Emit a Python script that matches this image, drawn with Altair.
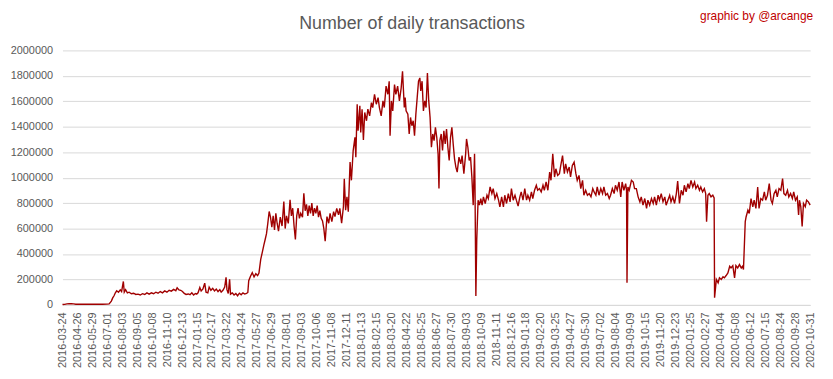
import altair as alt
import pandas as pd

# observation number (position along the category axis) and daily transaction counts
day = [0, 5, 10, 15, 20, 25, 30, 40, 50, 60, 70, 80, 90, 100, 105, 110, 113, 116, 119, 122, 126, 130, 133, 137, 139, 142, 146, 150, 155, 160, 165, 170, 175, 180, 185, 190, 195, 200, 205, 210, 215, 220, 225, 230, 235, 240, 245, 250, 255, 258, 262, 266, 270, 274, 278,
       283, 287, 291, 295, 299, 302, 305, 309, 312, 316, 320, 323, 327, 330, 334, 338, 342, 346, 350, 354, 357, 361, 365, 368, 370, 373, 376, 378, 382, 386, 390, 394, 398, 402, 406, 410, 414, 417, 419, 423, 427, 431, 435, 439, 442, 446, 450, 453, 456, 459, 462, 465,
       468, 471, 474, 477, 480, 483, 486, 490, 494, 498, 501, 504, 508, 512, 515, 518, 521, 524, 527, 530, 533, 536, 540, 543, 546, 549, 552, 555, 558, 561, 564, 567, 570, 573, 576, 579, 582, 585, 588, 591,
       595, 599, 602, 606, 610, 613, 617, 621, 624, 628, 632, 634, 637, 640, 643, 647, 650, 654, 658, 660, 663, 665, 669, 671, 674, 677, 680, 684, 687, 691, 695, 698, 702, 706, 710, 713, 717, 721, 724, 728, 732, 735, 737, 740, 743, 747, 750, 754, 758, 762, 765, 769, 771, 773, 777, 780, 783, 786, 789, 792, 795, 798, 801, 804, 806, 809, 812, 815, 818, 821, 824, 827, 830, 833, 836, 839, 842, 845, 847, 849, 852, 855, 858, 861, 864, 867, 870,
       873, 876, 879, 882, 885, 888, 892, 896, 899, 903, 907, 909, 912, 915, 918, 921, 924, 927, 928, 930, 932, 935, 938, 941, 944, 947, 951, 955, 958, 962, 966, 969, 973, 977, 981, 984, 988, 992, 995, 999, 1003, 1007, 1010, 1014, 1018, 1021, 1025, 1029, 1032, 1036, 1040, 1044, 1047, 1051, 1055, 1058, 1062, 1066, 1069, 1073, 1077, 1081, 1084, 1088, 1092, 1096, 1099, 1103, 1107, 1110, 1114, 1118, 1121, 1125, 1129, 1132, 1136, 1140, 1143, 1147, 1151, 1155, 1158, 1162, 1166, 1170, 1173, 1177, 1181, 1185,
       1189, 1193, 1196, 1200, 1203, 1207, 1211, 1215, 1218, 1222, 1226, 1230, 1233, 1237, 1241, 1244, 1248, 1252, 1256, 1259, 1263, 1267, 1269, 1270, 1272, 1275, 1280, 1284, 1287, 1291, 1295, 1299, 1302, 1306, 1310, 1314, 1317, 1321, 1325, 1329, 1332, 1336, 1340, 1343, 1347, 1351, 1355, 1358, 1362, 1366, 1369, 1373, 1377, 1381, 1384, 1388, 1392, 1396, 1399, 1403, 1407, 1410, 1414, 1418, 1422, 1425, 1429, 1433, 1436, 1440, 1444, 1447, 1449, 1452, 1455, 1459, 1463, 1466, 1467,
       1471, 1475, 1478, 1482, 1486, 1489, 1493, 1497, 1501, 1504, 1508, 1512, 1515, 1519, 1523, 1527, 1530, 1532, 1536, 1538, 1542, 1545, 1549, 1553, 1556, 1560, 1564, 1567, 1571, 1575, 1579, 1582, 1586, 1590, 1594, 1597, 1601, 1605, 1608, 1612, 1616, 1620, 1623, 1627, 1631, 1634, 1638, 1642, 1645, 1649, 1653, 1656, 1658, 1661, 1664, 1667, 1671, 1674, 1678, 1682]

tx = [3000, 4000, 8000, 9000, 10000, 8000, 5000, 5000, 5000, 5000, 5000, 5000, 5000, 6000, 8000, 30000, 55000, 72000, 95000, 111000, 100000, 118000, 105000, 184000, 100000, 120000, 95000, 100000, 88000, 92000, 82000, 85000, 78000, 88000, 82000, 95000, 85000, 95000, 88000, 100000, 92000, 105000, 95000, 110000, 100000, 115000, 108000, 122000, 112000, 135000, 118000, 115000, 105000, 90000, 82000,
      86000, 80000, 95000, 78000, 90000, 85000, 95000, 137000, 110000, 125000, 171000, 100000, 95000, 140000, 115000, 130000, 110000, 125000, 105000, 120000, 100000, 115000, 140000, 216000, 120000, 90000, 202000, 85000, 95000, 78000, 90000, 72000, 92000, 80000, 95000, 85000, 90000, 98000, 190000, 225000, 254000, 220000, 245000, 230000, 250000, 358000, 420000, 470000, 514000, 560000, 643000, 734000,
      690000, 610000, 700000, 590000, 720000, 640000, 580000, 690000, 620000, 812000, 600000, 700000, 640000, 825000, 700000, 760000, 620000, 514000, 700000, 760000, 680000, 720000, 690000, 877000, 740000, 790000, 700000, 780000, 720000, 800000, 700000, 760000, 720000, 780000, 690000, 740000, 680000, 660000, 600000, 500000,
      694000, 642000, 720000, 655000, 733000, 694000, 758000, 707000, 758000, 642000, 771000, 992000, 745000, 849000, 733000, 1122000, 979000, 1213000, 1317000, 1161000, 1577000, 1369000, 1564000, 1356000, 1538000, 1296000, 1512000, 1447000, 1538000, 1486000, 1590000, 1551000, 1655000, 1577000, 1629000, 1551000, 1486000, 1603000, 1551000, 1719000, 1655000, 1758000, 1330000, 1603000, 1525000, 1732000, 1655000, 1719000, 1603000, 1706000, 1836000, 1551000, 1629000, 1525000, 1499000, 1343000, 1473000, 1408000, 1447000, 1330000, 1499000, 1629000, 1758000, 1784000, 1681000, 1758000, 1525000, 1603000, 1551000, 1823000, 1603000, 1473000, 1239000, 1343000, 1291000, 1395000, 1317000, 1187000, 914000, 1291000, 1343000, 1213000, 1369000, 1265000, 1382000, 1239000, 1135000,
      1317000, 1395000, 1265000, 1148000, 1083000, 1044000, 1161000, 1109000, 1174000, 1031000, 1187000, 1304000, 1239000, 1135000, 1161000, 1005000, 784000, 1187000, 950000, 70000, 512000, 823000, 784000, 836000, 784000, 849000, 797000, 862000, 836000, 927000, 875000, 914000, 836000, 875000, 823000, 771000, 849000, 771000, 862000, 797000, 875000, 810000, 914000, 823000, 862000, 823000, 777000, 849000, 888000, 823000, 914000, 823000, 862000, 823000, 888000, 836000, 901000, 940000, 901000, 914000, 888000, 940000, 901000, 966000, 901000, 1044000, 979000, 1187000, 1005000, 1070000, 1018000, 1031000, 1096000, 1174000, 1031000, 1109000, 1044000, 1083000, 1005000, 1096000, 1122000, 1031000, 979000, 1018000, 914000, 979000, 862000, 901000, 862000, 875000,
      849000, 914000, 888000, 862000, 927000, 862000, 914000, 875000, 927000, 862000, 875000, 836000, 862000, 914000, 875000, 940000, 901000, 966000, 849000, 966000, 901000, 953000, 900000, 174000, 927000, 901000, 979000, 966000, 914000, 914000, 849000, 810000, 849000, 784000, 836000, 758000, 823000, 784000, 836000, 797000, 849000, 784000, 862000, 823000, 875000, 810000, 849000, 784000, 823000, 862000, 810000, 849000, 797000, 875000, 974000, 797000, 901000, 862000, 940000, 888000, 953000, 914000, 979000, 927000, 966000, 914000, 940000, 901000, 927000, 888000, 914000, 875000, 654000, 862000, 875000, 849000, 862000, 840000, 57000,
      200000, 174000, 213000, 200000, 221000, 213000, 231000, 252000, 304000, 291000, 309000, 213000, 309000, 291000, 317000, 291000, 304000, 278000, 654000, 693000, 745000, 719000, 836000, 771000, 823000, 758000, 927000, 758000, 836000, 823000, 888000, 823000, 862000, 953000, 823000, 797000, 875000, 901000, 849000, 914000, 901000, 992000, 875000, 862000, 901000, 849000, 875000, 836000, 888000, 823000, 849000, 706000, 823000, 771000, 616000, 797000, 771000, 823000, 810000, 784000]

tick_labels = ["2016-03-24", "2016-04-26", "2016-05-29", "2016-07-01", "2016-08-03", "2016-09-05", "2016-10-08", "2016-11-10", "2016-12-13",
               "2017-01-15", "2017-02-17", "2017-03-22", "2017-04-24", "2017-05-27", "2017-06-29", "2017-08-01", "2017-09-03", "2017-10-06",
               "2017-11-08", "2017-12-11", "2018-01-13", "2018-02-15", "2018-03-20", "2018-04-22", "2018-05-25", "2018-06-27", "2018-07-30",
               "2018-09-03", "2018-10-09", "2018-11-11", "2018-12-16", "2019-01-18", "2019-02-20", "2019-03-25", "2019-04-27", "2019-05-30",
               "2019-07-02", "2019-08-04", "2019-09-09", "2019-10-15", "2019-11-20", "2019-12-23", "2020-01-25", "2020-02-27", "2020-04-04",
               "2020-05-08", "2020-06-12", "2020-07-15", "2020-08-24", "2020-09-28", "2020-10-31"]

title_text = "Number of daily transactions"
credit_text = "graphic by @arcange"

df = pd.DataFrame({"day": day, "tx": tx})

span = day[-1]
n = len(tick_labels) - 1
step = span / n
tick_pos = [k * step for k in range(n + 1)]
label_js = "[" + ",".join("'" + t + "'" for t in tick_labels) + "]"
label_expr = label_js + "[round(datum.value / " + str(step) + ")]"

FONT = "Liberation Sans"
GRAY = "#595959"

line = alt.Chart(df).mark_line(color="#a00000", strokeWidth=1.4).encode(
    x=alt.X("day:Q",
            scale=alt.Scale(domain=[0, span], nice=False, zero=False),
            axis=alt.Axis(values=tick_pos, labelExpr=label_expr, labelAngle=-90,
                          grid=False, ticks=False, domain=True, domainColor="#d9d9d9",
                          labelColor=GRAY, labelFont=FONT, labelFontSize=11,
                          labelPadding=7, labelOverlap=False, title=None)),
    y=alt.Y("tx:Q",
            scale=alt.Scale(domain=[0, 2000000], nice=False),
            axis=alt.Axis(values=list(range(0, 2000001, 200000)), format="d",
                          grid=True, gridColor="#d9d9d9", gridWidth=1,
                          domain=False, ticks=False, labelColor=GRAY, labelFont=FONT,
                          labelFontSize=11, labelPadding=10, title=None)),
)

title = alt.Chart(pd.DataFrame({"t": [title_text]})).mark_text(
    font=FONT, fontSize=18, color=GRAY, align="center", baseline="middle"
).encode(text="t:N", x=alt.value(353), y=alt.value(-27))

credit = alt.Chart(pd.DataFrame({"t": [credit_text]})).mark_text(
    font=FONT, fontSize=12, color="#c00000", align="right", baseline="middle"
).encode(text="t:N", x=alt.value(758), y=alt.value(-35))

chart = alt.layer(line, title, credit).properties(
    width=755, height=257, autosize="none",
    padding={"left": 55, "top": 41, "right": 15, "bottom": 73},
    background="white",
).configure_view(stroke=None)

chart.save("out.html", embed_options={"renderer": "svg", "actions": False})
